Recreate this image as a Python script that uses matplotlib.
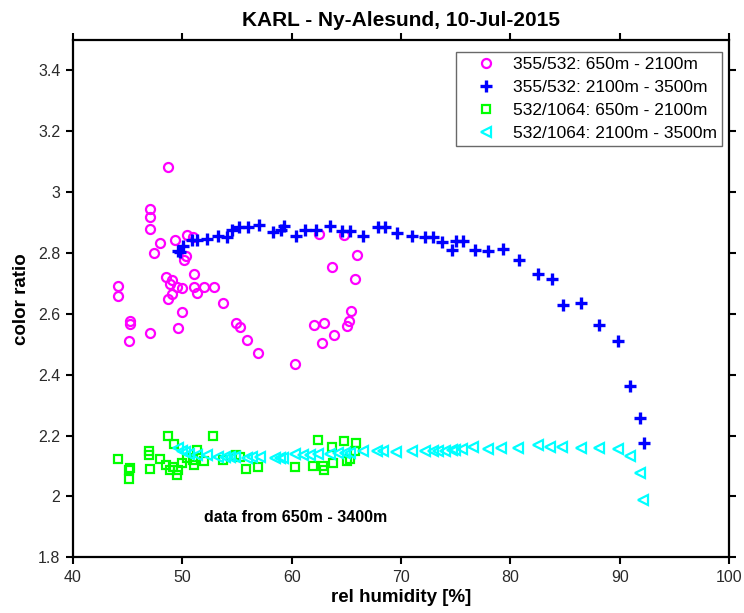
import matplotlib
matplotlib.use("Agg")
import matplotlib.pyplot as plt

plt.rcParams['font.family'] = ['Liberation Sans', 'DejaVu Sans']

# 355/532 color ratio, 650 m - 2100 m
rh_355_low = [44.12, 44.12, 45.22, 45.22, 45.16, 47.05, 47.05, 47.05, 47.00, 47.44,
              47.96, 48.49, 48.70, 48.70, 48.88, 49.03, 49.09, 49.37, 49.52, 49.58,
              49.98, 50.01, 50.14, 50.35, 50.44, 51.01, 51.04, 51.10, 51.37, 51.96,
              52.90, 53.68, 54.94, 55.26, 55.92, 56.95, 60.34, 62.04, 62.52, 62.77,
              62.96, 63.66, 63.87, 64.82, 65.06, 65.29, 65.39, 65.76, 65.97]
cr_355_low = [2.693, 2.660, 2.576, 2.568, 2.512, 2.944, 2.918, 2.879, 2.536, 2.800,
              2.833, 2.720, 3.084, 2.649, 2.698, 2.664, 2.711, 2.844, 2.687, 2.553,
              2.605, 2.686, 2.778, 2.790, 2.860, 2.854, 2.687, 2.730, 2.667, 2.689,
              2.689, 2.637, 2.570, 2.558, 2.514, 2.472, 2.435, 2.562, 2.864, 2.503,
              2.571, 2.754, 2.530, 2.858, 2.560, 2.576, 2.608, 2.713, 2.795]

# 355/532 color ratio, 2100 m - 3500 m
rh_355_high = [49.64, 49.79, 50.04, 50.85, 51.32, 52.24, 53.30, 54.06, 54.52, 55.22,
               56.05, 57.05, 58.33, 59.00, 59.31, 60.40, 61.23, 62.23, 63.51, 64.64,
               65.34, 66.55, 67.94, 68.53, 69.66, 70.99, 72.21, 72.97, 73.74, 74.71,
               75.01, 75.65, 76.78, 77.94, 79.31, 80.80, 82.57, 83.80, 84.80, 86.45,
               88.07, 89.84, 90.97, 91.88, 92.25]
cr_355_high = [2.806, 2.802, 2.823, 2.844, 2.844, 2.846, 2.857, 2.854, 2.877, 2.885,
               2.885, 2.892, 2.868, 2.877, 2.890, 2.857, 2.877, 2.877, 2.890, 2.871,
               2.871, 2.855, 2.885, 2.885, 2.866, 2.857, 2.852, 2.852, 2.835, 2.810,
               2.838, 2.838, 2.811, 2.806, 2.812, 2.777, 2.730, 2.714, 2.628, 2.637,
               2.563, 2.511, 2.364, 2.259, 2.177]

# 532/1064 color ratio, 650 m - 2100 m
rh_532_low = [44.09, 45.22, 45.16, 45.16, 46.96, 46.96, 47.05, 47.96, 48.67, 49.28,
              48.49, 48.88, 49.19, 49.55, 49.64, 49.95, 50.47, 51.01, 51.32, 51.07,
              51.99, 52.84, 53.70, 54.88, 55.28, 55.83, 56.89, 60.31, 62.44, 61.97,
              62.84, 62.96, 63.81, 63.66, 64.82, 65.88, 65.79, 65.03, 65.34]
cr_532_low = [2.122, 2.093, 2.087, 2.057, 2.148, 2.135, 2.090, 2.122, 2.200, 2.173,
              2.104, 2.087, 2.096, 2.071, 2.087, 2.109, 2.126, 2.120, 2.151, 2.104,
              2.115, 2.199, 2.120, 2.137, 2.131, 2.090, 2.098, 2.098, 2.186, 2.101,
              2.100, 2.087, 2.111, 2.162, 2.181, 2.175, 2.148, 2.118, 2.122]

# 532/1064 color ratio, 2100 m - 3500 m
rh_532_high = [49.64, 49.95, 50.25, 50.65, 51.32, 52.24, 53.30, 53.87, 54.39, 54.79,
               55.90, 56.35, 57.11, 58.48, 58.94, 59.24, 60.31, 61.06, 61.69, 62.44,
               63.51, 64.27, 64.89, 65.34, 66.55, 67.78, 68.38, 69.59, 70.97, 72.21,
               72.91, 73.42, 74.04, 74.65, 74.95, 75.57, 76.57, 77.99, 79.15, 80.68,
               82.51, 83.64, 84.70, 86.44, 88.07, 89.81, 90.91, 91.88, 92.18]
cr_532_high = [2.160, 2.150, 2.145, 2.140, 2.135, 2.135, 2.130, 2.130, 2.130, 2.130,
               2.125, 2.131, 2.129, 2.125, 2.125, 2.125, 2.139, 2.137, 2.137, 2.140,
               2.140, 2.144, 2.144, 2.144, 2.148, 2.148, 2.148, 2.145, 2.148, 2.150,
               2.150, 2.150, 2.150, 2.152, 2.153, 2.155, 2.161, 2.155, 2.159, 2.159,
               2.170, 2.162, 2.162, 2.159, 2.159, 2.155, 2.134, 2.076, 1.988]

series_labels = ["355/532: 650m - 2100m", "355/532: 2100m - 3500m",
                 "532/1064: 650m - 2100m", "532/1064: 2100m - 3500m"]

fig = plt.figure(figsize=(7.44, 6.13), dpi=100)
ax = fig.add_axes([0.0981, 0.0909, 0.8817, 0.8438])

ax.plot(rh_355_low, cr_355_low, linestyle='none', marker='o', ms=6.5, mfc='none',
        mec='#ff00ff', mew=1.6, label=series_labels[0])
ax.plot(rh_355_high, cr_355_high, linestyle='none', marker='+', ms=8, color='#0000ff',
        mew=2.4, label=series_labels[1])
ax.plot(rh_532_low, cr_532_low, linestyle='none', marker='s', ms=6, mfc='none',
        mec='#00ff00', mew=1.6, label=series_labels[2])
ax.plot(rh_532_high, cr_532_high, linestyle='none', marker='<', ms=6.5, mfc='none',
        mec='#00ffff', mew=1.6, label=series_labels[3])

ax.set_xlim(40, 100)
ax.set_ylim(1.8, 3.5)
ax.set_xticks([40, 50, 60, 70, 80, 90, 100])
ax.set_yticks([1.8, 2.0, 2.2, 2.4, 2.6, 2.8, 3.0, 3.2, 3.4])
ax.set_yticklabels(["1.8", "2", "2.2", "2.4", "2.6", "2.8", "3", "3.2", "3.4"])
ax.tick_params(direction='out', length=5, width=1.5, labelsize=11.5, pad=4,
               top=True, right=True, colors='black', labelcolor='#2a2a2a')
for sp in ax.spines.values():
    sp.set_linewidth(1.6)

ax.set_xlabel("rel humidity [%]", fontsize=13.5, fontweight='bold', labelpad=3)
ax.set_ylabel("color ratio", fontsize=13.5, fontweight='bold', labelpad=6)
ax.set_title("KARL - Ny-Alesund, 10-Jul-2015", fontsize=15, fontweight='bold', pad=10)

ax.text(52.0, 1.93, "data from 650m - 3400m", fontsize=11.5, fontweight='bold',
        ha='left', va='center')

leg = ax.legend(loc='upper right', bbox_to_anchor=(0.9893, 0.9768), borderaxespad=0,
                fontsize=12.5, frameon=True, fancybox=False, edgecolor='#444444',
                borderpad=0.3, handletextpad=0.1, labelspacing=0.45,
                handlelength=2.85)
leg.get_frame().set_linewidth(1.0)

fig.savefig("out.png", dpi=100)
